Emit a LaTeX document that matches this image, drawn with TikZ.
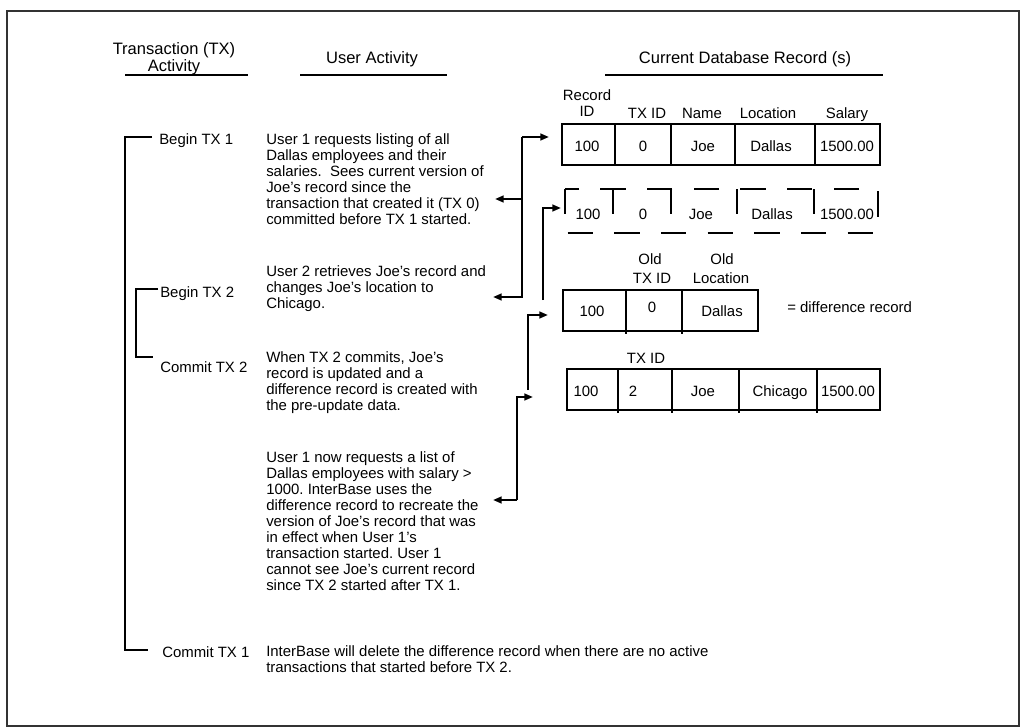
\documentclass[tikz,border=0pt]{standalone}
\usepackage{fontspec}
\setmainfont{Liberation Sans}
\usetikzlibrary{arrows.meta}
\frenchspacing
\begin{document}
\begin{tikzpicture}[x=0.75pt,y=-0.75pt,line join=miter,font=\fontsize{11.2}{12}\selectfont,
  txt/.style={anchor=north west,inner sep=0pt,align=left},
  lbl/.style={anchor=west,inner sep=0pt,text height=8pt,text depth=0pt},
  cell/.style={inner sep=0pt,text height=8pt,text depth=0pt},
  hd/.style={inner sep=0pt,align=center,font=\fontsize{12.4}{13}\selectfont},
  bar/.style={line width=2pt},
  rec/.style={line width=1.7pt},
  ghost/.style={line width=1.7pt,dash pattern=on 19pt off 16pt},
  ptr/.style={line width=1.8pt,-{Triangle[length=6.5pt,width=5pt]}}]
  \useasboundingbox (0,0) rectangle (1022,728);
  \draw[line width=0.8pt,black!80] (7,11) rectangle (1019,726);

  \node[hd] (htx) at (174,59) {Transaction (TX)\\Activity};
  \node[hd] (hua) at (372,59) {User Activity};
  \node[hd] (hdb) at (745,59) {Current Database Record (s)};
  \draw[bar] (125,75) -- (248,75);
  \draw[bar] (300,75) -- (447,75);
  \draw[bar] (605,75) -- (883,75);

  \draw[bar] (152,137) -- (125,137) -- (125,650) -- (148,650);
  \draw[bar] (158,289) -- (136,289) -- (136,357) -- (153,357);
  \node[lbl] (b1) at (159,139) {Begin TX 1};
  \node[lbl] (b2) at (160,292) {Begin TX 2};
  \node[lbl] (c2) at (160,367) {Commit TX 2};
  \node[lbl] (c1) at (162,652) {Commit TX 1};

  \node[txt] (u1) at (266,133) {User 1 requests listing of all\\Dallas employees and their\\salaries.\ \ Sees current version of\\Joe's record since the\\transaction that created it (TX 0)\\committed before TX 1 started.};
  \node[txt] (u2) at (266,265) {User 2 retrieves Joe's record and\\changes Joe's location to\\Chicago.};
  \node[txt] (u3) at (266,351) {When TX 2 commits, Joe's\\record is updated and a\\difference record is created with\\the pre-update data.};
  \node[txt] (u4) at (266,451) {User 1 now requests a list of\\Dallas employees with salary >\\1000. InterBase uses the\\difference record to recreate the\\version of Joe's record that was\\in effect when User 1's\\transaction started. User 1\\cannot see Joe's current record\\since TX 2 started after TX 1.};
  \node[txt] (u5) at (266,645) {InterBase will delete the difference record when there are no active\\transactions that started before TX 2.};

  \node[inner sep=0pt,align=center,font=\fontsize{11.2}{12.5}\selectfont] (r1a) at (587,103) {Record\\ID};
  \node[cell] (r1c) at (647,113) {TX ID};
  \node[cell] (r1d) at (702,113) {Name};
  \node[cell] (r1e) at (768,113) {Location};
  \node[cell] (r1f) at (847,113) {Salary};
  \draw[rec] (562,124) rectangle (880,165);
  \draw[rec] (615,124) -- (615,165) (671,124) -- (671,165) (735,124) -- (735,165) (815,124) -- (815,165);
  \node[cell] (v1a) at (587,146) {100};
  \node[cell] (v1b) at (643,146) {0};
  \node[cell] (v1c) at (703,146) {Joe};
  \node[cell] (v1d) at (771,146) {Dallas};
  \node[cell] (v1e) at (847,146) {1500.00};

  \draw[ghost] (565,189) rectangle (878,233);
  \draw[ghost] (613,189) -- (613,233) (671,189) -- (671,233) (737,189) -- (737,233) (814,189) -- (814,233);
  \node[cell] (v2a) at (588,214) {100};
  \node[cell] (v2b) at (643,214) {0};
  \node[cell] (v2c) at (701,214) {Joe};
  \node[cell] (v2d) at (772,214) {Dallas};
  \node[cell] (v2e) at (847,214) {1500.00};

  \node[cell] (d1a) at (650,259) {Old};
  \node[cell] (d1b) at (652,278) {TX ID};
  \node[cell] (d1c) at (722,259) {Old};
  \node[cell] (d1d) at (721,278) {Location};
  \draw[rec] (563,290) rectangle (758,331);
  \draw[rec] (626,290) -- (626,334) (682,290) -- (682,334);
  \node[cell] (v3a) at (592,311) {100};
  \node[cell] (v3b) at (652,307) {0};
  \node[cell] (v3c) at (722,311) {Dallas};
  \node[lbl] (diff) at (787,307) {= difference record};

  \node[cell] (n1a) at (646,358) {TX ID};
  \draw[rec] (567,369) rectangle (880,410);
  \draw[rec] (618,369) -- (618,413) (672,369) -- (672,413) (739,369) -- (739,413) (817,369) -- (817,413);
  \node[cell] (v4a) at (586,391) {100};
  \node[cell] (v4b) at (633,391) {2};
  \node[cell] (v4c) at (703,391) {Joe};
  \node[cell] (v4d) at (780,391) {Chicago};
  \node[cell] (v4e) at (848,391) {1500.00};

  \coordinate (s1) at (522,137);
  \coordinate (s2) at (522,199);
  \coordinate (s3) at (522,297);
  \draw[ptr] (s1) -- (549,137);
  \draw[ptr] (s2) -- (495,199);
  \draw[ptr] (s1) -- (s3) -- (493,297);
  \coordinate (t1) at (543,300);
  \draw[ptr] (t1) -- (543,208) -- (561,208);
  \coordinate (t2) at (528,390);
  \draw[ptr] (t2) -- (528,315) -- (548,315);
  \coordinate (t3) at (517,500);
  \draw[ptr] (t3) -- (517,397) -- (533,397);
  \draw[ptr] (t3) -- (493,500);
\end{tikzpicture}
\end{document}
